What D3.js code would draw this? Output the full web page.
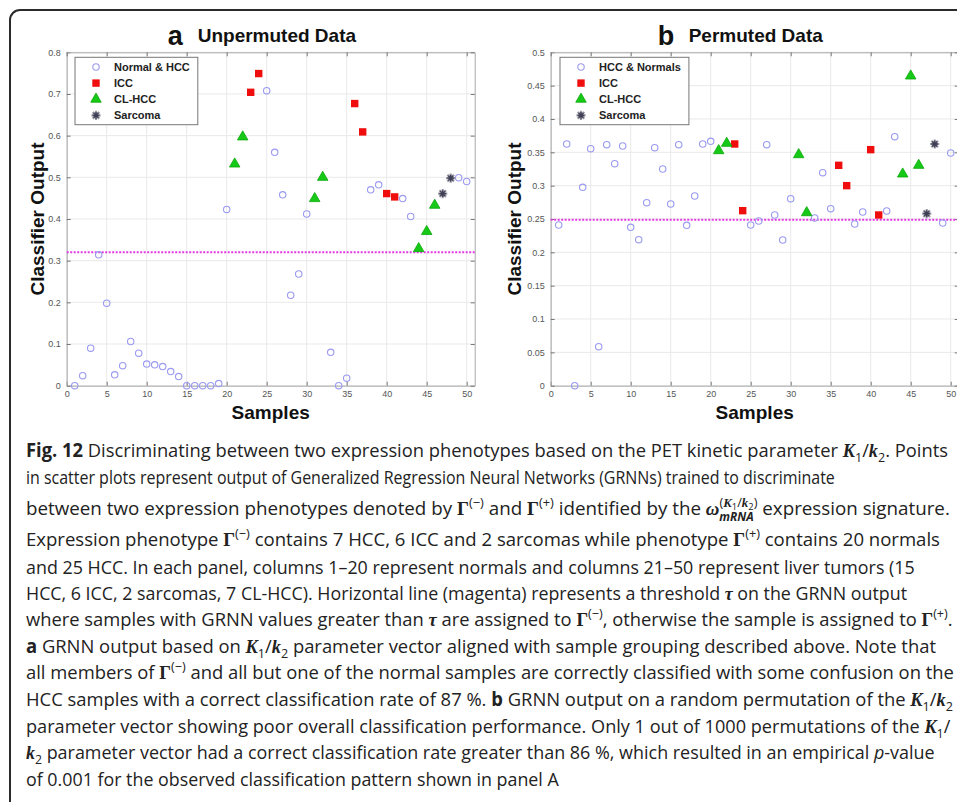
<!DOCTYPE html>
<html>
<head>
<meta charset="utf-8">
<script src="https://cdn.jsdelivr.net/npm/d3@7"></script>
<style>
body { margin: 0; background: #fff; }
svg { display: block; }
</style>
</head>
<body>
<script>
// sample numbers of each group (same in both panels)
var normalIdx = [1, 2, 3, 4, 5, 6, 7, 8, 9, 10, 11, 12, 13, 14, 15, 16, 17, 18, 19, 20,
	25, 26, 27, 28, 29, 30, 33, 34, 35, 38, 39, 42, 43, 49, 50];
var iccIdx = [23, 24, 36, 37, 40, 41];
var clhccIdx = [21, 22, 31, 32, 44, 45, 46];
var sarcIdx = [47, 48];

// panel a: unpermuted data
var normalA = [0, 0.024, 0.09, 0.314, 0.198, 0.026, 0.048, 0.106, 0.078, 0.052, 0.05, 0.046, 0.034, 0.022, 0, 0, 0, 0, 0.005, 0.423,
	0.708, 0.56, 0.458, 0.217, 0.268, 0.412, 0.08, 0, 0.018, 0.47, 0.482, 0.449, 0.406, 0.499, 0.49];
var iccA = [0.704, 0.749, 0.677, 0.609, 0.461, 0.453];
var clhccA = [0.532, 0.597, 0.449, 0.5, 0.329, 0.37, 0.433];
var sarcA = [0.461, 0.498];
var thresholdA = 0.32;

// panel b: permuted data
var normalB = [0.241, 0.3625, 0, 0.2975, 0.3555, 0.0585, 0.3615, 0.333, 0.3595, 0.2375, 0.219, 0.2745, 0.357, 0.325, 0.2725, 0.3615, 0.2405, 0.2845, 0.3625, 0.3665,
	0.241, 0.247, 0.3615, 0.256, 0.2185, 0.2805, 0.2515, 0.3195, 0.2655, 0.2425, 0.2605, 0.262, 0.3735, 0.244, 0.349];
var iccB = [0.3625, 0.2625, 0.3305, 0.3, 0.354, 0.256];
var clhccB = [0.3525, 0.3635, 0.3465, 0.2595, 0.3175, 0.4645, 0.3305];
var sarcB = [0.258, 0.3625];
var thresholdB = 0.249;

var xTicks = [0, 5, 10, 15, 20, 25, 30, 35, 40, 45, 50];
var yTicksA = [0, 0.1, 0.2, 0.3, 0.4, 0.5, 0.6, 0.7, 0.8];
var yTicksB = [0, 0.05, 0.1, 0.15, 0.2, 0.25, 0.3, 0.35, 0.4, 0.45, 0.5];
var legendA = ["Normal & HCC", "ICC", "CL-HCC", "Sarcoma"];
var legendB = ["HCC & Normals", "ICC", "CL-HCC", "Sarcoma"];

// caption, one array per printed line: [style, text]
var caption = [
	[["b", "Fig. 12"], ["r", " Discriminating between two expression phenotypes based on the PET kinetic parameter "], ["v", "K"], ["sub", "1"], ["r", "/"], ["v", "k"], ["sub", "2"], ["r", ". Points"]],
	[["r", "in scatter plots represent output of Generalized Regression Neural Networks (GRNNs) trained to discriminate"]],
	[["r", "between two expression phenotypes denoted by "], ["g", "Γ"], ["sup", "(−)"], ["r", " and "], ["g", "Γ"], ["sup", "(+)"], ["r", " identified by the "], ["v", "ω"],
		["mark", ""], ["sup", "("], ["supv", "K"], ["supsub", "1"], ["sup", "/"], ["supv", "k"], ["supsub", "2"], ["sup", ")"], ["stack", "mRNA"], ["r", " expression signature."]],
	[["r", "Expression phenotype "], ["g", "Γ"], ["sup", "(−)"], ["r", " contains 7 HCC, 6 ICC and 2 sarcomas while phenotype "], ["g", "Γ"], ["sup", "(+)"], ["r", " contains 20 normals"]],
	[["r", "and 25 HCC. In each panel, columns 1–20 represent normals and columns 21–50 represent liver tumors (15"]],
	[["r", "HCC, 6 ICC, 2 sarcomas, 7 CL-HCC). Horizontal line (magenta) represents a threshold "], ["v", "τ"], ["r", " on the GRNN output"]],
	[["r", "where samples with GRNN values greater than "], ["v", "τ"], ["r", " are assigned to "], ["g", "Γ"], ["sup", "(−)"], ["r", ", otherwise the sample is assigned to "], ["g", "Γ"], ["sup", "(+)"], ["r", "."]],
	[["b", "a"], ["r", " GRNN output based on "], ["v", "K"], ["sub", "1"], ["r", "/"], ["v", "k"], ["sub", "2"], ["r", " parameter vector aligned with sample grouping described above. Note that"]],
	[["r", "all members of "], ["g", "Γ"], ["sup", "(−)"], ["r", " and all but one of the normal samples are correctly classified with some confusion on the"]],
	[["r", "HCC samples with a correct classification rate of 87 %. "], ["b", "b"], ["r", " GRNN output on a random permutation of the "], ["v", "K"], ["sub", "1"], ["r", "/"], ["v", "k"], ["sub", "2"]],
	[["r", "parameter vector showing poor overall classification performance. Only 1 out of 1000 permutations of the "], ["v", "K"], ["sub", "1"], ["r", "/"]],
	[["v", "k"], ["sub", "2"], ["r", " parameter vector had a correct classification rate greater than 86 %, which resulted in an empirical "], ["i", "p"], ["r", "-value"]],
	[["r", "of 0.001 for the observed classification pattern shown in panel A"]]
];
var captionBaselines = [457, 484, 515, 546, 574, 600, 626, 653, 679, 706, 733, 759, 786];
// where each printed line ends (ragged right margin)
var captionEnds = [949, 835, 951, 941, 915, 908, 953, 937, 955, 954, 951, 935, 559];

var sans = "'Liberation Sans', Arial, sans-serif";
var serif = "'Liberation Serif', 'Times New Roman', serif";

var svg = d3.select("body").append("svg")
	.attr("width", 957)
	.attr("height", 802);

// rounded frame round the figure (runs off the right and bottom edge)
svg.append("rect")
	.attr("x", 10).attr("y", 10)
	.attr("width", 990).attr("height", 830)
	.attr("rx", 10)
	.attr("fill", "none")
	.attr("stroke", "#2b2b2b")
	.attr("stroke-width", 2);

var plotW = 408, plotH = 333.4, plotTop = 52.3;

var panels = [
	{left: 66.7, letter: "a", title: "Unpermuted Data", letterX: 101, titleX: 131, ymax: 0.8, yTicks: yTicksA,
		normal: normalA, icc: iccA, clhcc: clhccA, sarc: sarcA, thr: thresholdA, legend: legendA, legendX: 8.3, ylabX: -29},
	{left: 550.7, letter: "b", title: "Permuted Data", letterX: 107, titleX: 138, ymax: 0.5, yTicks: yTicksB,
		normal: normalB, icc: iccB, clhcc: clhccB, sarc: sarcB, thr: thresholdB, legend: legendB, legendX: 9.3, ylabX: -36}
];

function starPath(r) {
	var q = r * 0.72;
	return "M" + (-r) + ",0L" + r + ",0M0," + (-r) + "L0," + r +
		"M" + (-q) + "," + (-q) + "L" + q + "," + q + "M" + (-q) + "," + q + "L" + q + "," + (-q);
}
var triangle = d3.symbol().type(d3.symbolTriangle).size(48);

function drawMarker(g, kind) {
	if (kind === 0) {
		g.append("circle").attr("r", 3.2).attr("fill", "none").attr("stroke", "#9a9af0").attr("stroke-width", 1.1);
	} else if (kind === 1) {
		g.append("rect").attr("x", -3.7).attr("y", -3.7).attr("width", 7.4).attr("height", 7.4).attr("fill", "#f00d0d");
	} else if (kind === 2) {
		g.append("path").attr("d", triangle()).attr("fill", "#17c917").attr("stroke", "#0aa80a").attr("stroke-width", 0.8);
	} else {
		g.append("path").attr("d", starPath(4.6)).attr("stroke", "#9a9aa6").attr("stroke-width", 2.2);
		g.append("path").attr("d", starPath(3.4)).attr("stroke", "#3f3f55").attr("stroke-width", 1.3);
	}
}

panels.forEach(function(p) {
	var x = d3.scaleLinear().domain([0, 51]).range([0, plotW]);
	var y = d3.scaleLinear().domain([0, p.ymax]).range([plotH, 0]);
	var yFmt = function(d) { return d === 0 ? "0" : String(+d.toFixed(2)); };

	var g = svg.append("g").attr("transform", "translate(" + p.left + "," + plotTop + ")");

	// grid
	var grid = g.append("g").attr("class", "grid");
	grid.selectAll(".gx").data(xTicks).enter().append("line")
		.attr("x1", function(d) { return x(d); }).attr("x2", function(d) { return x(d); })
		.attr("y1", 0).attr("y2", plotH)
		.attr("stroke", "#e9e9e9").attr("stroke-width", 1);
	grid.selectAll(".gy").data(p.yTicks).enter().append("line")
		.attr("y1", function(d) { return y(d); }).attr("y2", function(d) { return y(d); })
		.attr("x1", 0).attr("x2", plotW)
		.attr("stroke", "#e9e9e9").attr("stroke-width", 1);

	// axes, MATLAB style box with inward ticks
	var axes = [
		g.append("g").attr("transform", "translate(0," + plotH + ")")
			.call(d3.axisBottom(x).tickValues(xTicks).tickSizeInner(-4).tickSizeOuter(0).tickPadding(5)),
		g.append("g")
			.call(d3.axisLeft(y).tickValues(p.yTicks).tickFormat(yFmt).tickSizeInner(-4).tickSizeOuter(0).tickPadding(6)),
		g.append("g")
			.call(d3.axisTop(x).tickValues(xTicks).tickFormat("").tickSizeInner(-4).tickSizeOuter(0)),
		g.append("g").attr("transform", "translate(" + plotW + ",0)")
			.call(d3.axisRight(y).tickValues(p.yTicks).tickFormat("").tickSizeInner(-4).tickSizeOuter(0))
	];
	axes.forEach(function(a) {
		a.select(".domain").attr("stroke", "#a8a8a8");
		a.selectAll(".tick line").attr("stroke", "#777");
		a.selectAll(".tick text").attr("fill", "#555").style("font-family", sans).style("font-size", "9px");
	});

	// threshold
	g.append("line")
		.attr("x1", 0).attr("x2", plotW)
		.attr("y1", y(p.thr)).attr("y2", y(p.thr))
		.attr("stroke", "#e23ae2").attr("stroke-width", 2)
		.attr("stroke-dasharray", "2,1.5");

	// points
	var groups = [[normalIdx, p.normal], [iccIdx, p.icc], [clhccIdx, p.clhcc], [sarcIdx, p.sarc]];
	groups.forEach(function(gr, k) {
		gr[0].forEach(function(s, i) {
			var m = g.append("g").attr("transform", "translate(" + x(s) + "," + y(gr[1][i]) + ")");
			drawMarker(m, k);
		});
	});

	// legend
	var lg = g.append("g").attr("transform", "translate(" + p.legendX + ",5)");
	var box = lg.append("rect").attr("fill", "#fff").attr("stroke", "#777").attr("stroke-width", 1);
	var maxW = 0;
	p.legend.forEach(function(name, i) {
		var row = lg.append("g").attr("transform", "translate(0," + (9.7 + i * 16.1) + ")");
		drawMarker(row.append("g").attr("transform", "translate(21,0)"), i);
		var t = row.append("text").attr("x", 39).attr("y", 4)
			.style("font-family", sans).style("font-size", "11px").style("font-weight", "bold")
			.attr("fill", "#222").text(name);
		maxW = Math.max(maxW, t.node().getComputedTextLength());
	});
	box.attr("x", 0).attr("y", 0).attr("width", 39 + maxW + 8).attr("height", 67.4);

	// titles and axis labels
	var tt = g.append("text").style("font-family", sans).attr("fill", "#111");
	tt.append("tspan").attr("x", p.letterX).attr("y", -7.5).style("font-size", "27px").style("font-weight", "bold").text(p.letter);
	tt.append("tspan").attr("x", p.titleX).attr("y", -10).style("font-size", "19px").style("font-weight", "bold").text(p.title);

	g.append("text")
		.attr("transform", "translate(" + p.ylabX + "," + (plotH / 2) + ") rotate(-90)")
		.attr("text-anchor", "middle").attr("dy", "0.35em")
		.style("font-family", sans).style("font-size", "19px").style("font-weight", "bold")
		.attr("fill", "#111").text("Classifier Output");

	g.append("text")
		.attr("x", plotW / 2).attr("y", plotH + 26.3).attr("dy", "0.35em")
		.attr("text-anchor", "middle")
		.style("font-family", sans).style("font-size", "19px").style("font-weight", "bold")
		.attr("fill", "#111").text("Samples");
});

// caption
var styles = {
	r: {},
	b: {w: "bold"},
	i: {s: "italic"},
	v: {f: serif, w: "bold", s: "italic"},
	g: {f: serif, w: "bold"},
	sub: {z: 13, shift: 5},
	sup: {z: 13, shift: -8},
	supv: {f: serif, w: "bold", s: "italic", z: 13, shift: -8},
	supsub: {z: 9.5, shift: -4.5},
	stack: {w: "bold", s: "italic", z: 12, shift: 6}
};

var cap = svg.append("g");
caption.forEach(function(line, li) {
	var t = cap.append("text").attr("x", 0).attr("y", captionBaselines[li])
		.style("font-family", "'Open Sans', sans-serif").style("font-size", "19px").attr("fill", "#222");
	var cur = 0, marked = null, pendingDx = 0;
	line.forEach(function(seg) {
		if (seg[0] === "mark") { marked = []; return; }
		var st = styles[seg[0]];
		var shift = st.shift || 0;
		var ts = t.append("tspan").text(seg[1]);
		if (shift !== cur) { ts.attr("dy", shift - cur); cur = shift; }
		if (st.f) ts.style("font-family", st.f);
		if (st.w) ts.style("font-weight", st.w);
		if (st.s) ts.style("font-style", st.s);
		if (st.z) ts.style("font-size", st.z + "px");
		if (seg[0] === "stack" && marked) {
			var supW = d3.sum(marked, function(n) { return n.getComputedTextLength(); });
			ts.attr("dx", -supW);
			pendingDx = supW - ts.node().getComputedTextLength();
			marked = null;
			return;
		}
		if (pendingDx) { ts.attr("dx", pendingDx); pendingDx = 0; }
		if (marked) marked.push(ts.node());
	});
	// fit each printed line to its own right end
	var bb = t.node().getBBox();
	var sx = (captionEnds[li] - 26) / bb.width;
	t.attr("transform", "translate(26,0) scale(" + sx + ",1)");
});
</script>
</body>
</html>
